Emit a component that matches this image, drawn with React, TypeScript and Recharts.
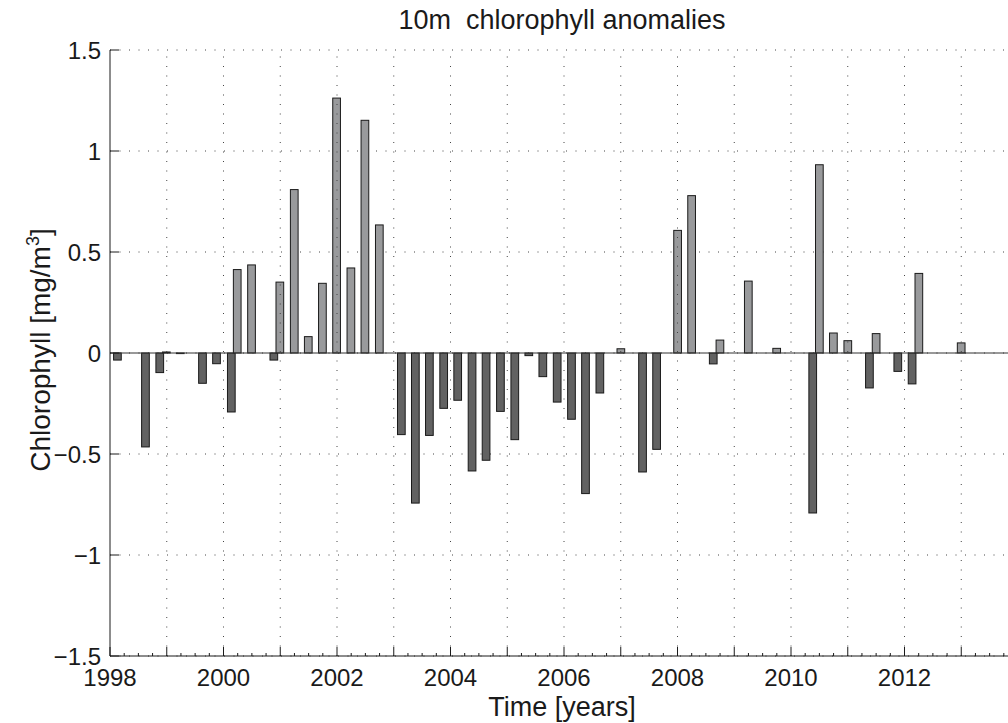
import React from "react";
import {
  BarChart,
  Bar,
  Cell,
  XAxis,
  YAxis,
  CartesianGrid,
  ReferenceLine,
} from "recharts";

// bar times (decimal years) and anomaly values
const times = [
  1998.136, 1998.63, 1998.882, 1998.998, 1999.243, 1999.635, 1999.882,
  2000.143, 2000.247, 2000.499, 2000.892, 2000.998, 2001.252, 2001.499,
  2001.748, 2001.998, 2002.25, 2002.497, 2002.751, 2003.139, 2003.386,
  2003.633, 2003.885, 2004.132, 2004.385, 2004.632, 2004.885, 2005.138,
  2005.385, 2005.632, 2005.885, 2006.137, 2006.384, 2006.637, 2007.007,
  2007.389, 2007.637, 2008.007, 2008.254, 2008.635, 2008.753, 2009.253,
  2009.753, 2010.388, 2010.505, 2010.752, 2011.006, 2011.387, 2011.505,
  2011.887, 2012.139, 2012.258, 2013.004,
];
const anomalies = [
  -0.035, -0.465, -0.097, 0.005, -0.003, -0.15, -0.053,
  -0.292, 0.413, 0.436, -0.035, 0.351, 0.809, 0.081,
  0.345, 1.262, 0.421, 1.152, 0.634, -0.404, -0.743,
  -0.408, -0.274, -0.234, -0.584, -0.531, -0.289, -0.429,
  -0.013, -0.117, -0.243, -0.328, -0.696, -0.198, 0.021,
  -0.589, -0.477, 0.607, 0.779, -0.054, 0.064, 0.356,
  0.023, -0.792, 0.932, 0.099, 0.061, -0.173, 0.096,
  -0.091, -0.153, 0.394, 0.05,
];

const years = [
  1998, 1999, 2000, 2001, 2002, 2003, 2004, 2005, 2006, 2007, 2008, 2009,
  2010, 2011, 2012, 2013, 2014,
];
const labeledYears = [1998, 2000, 2002, 2004, 2006, 2008, 2010, 2012];
const yTicks = [-1.5, -1, -0.5, 0, 0.5, 1, 1.5];

const data = times.map((t, i) => ({ t, v: anomalies[i] }));
const quarterTicks = years.flatMap((y) => [y, y + 0.25, y + 0.5, y + 0.75]).filter((q) => q <= 2014);

const FONT = '"Liberation Sans", Arial, Helvetica, sans-serif';
const INK = "#1a1a1a";
const PLOT_LEFT = 110;
const PLOT_BOTTOM = 656;
const POS = "#999a9c";
const NEG = "#626262";
const GRID_DASH = "1 8.5";
const BAR_W = 7.7;

const XTick = (props: any) => {
  const { x, payload } = props;
  const v = payload.value as number;
  const major = Math.abs(v - Math.round(v)) < 1e-6;
  const labeled = major && labeledYears.includes(Math.round(v));
  return (
    <g>
      <line x1={x} x2={x} y1={PLOT_BOTTOM} y2={PLOT_BOTTOM - (major ? 9 : 3)} stroke={INK} strokeWidth={1} />
      {labeled && (
        <text x={x} y={686} textAnchor="middle" fontFamily={FONT} fontSize={24} fill={INK}>
          {Math.round(v)}
        </text>
      )}
    </g>
  );
};

const YTick = (props: any) => {
  const { y, payload } = props;
  const v = payload.value as number;
  const label = v < 0 ? "\u2212" + String(Math.abs(v)) : String(v);
  return (
    <g>
      <line x1={PLOT_LEFT} x2={PLOT_LEFT + 9} y1={y} y2={y} stroke={INK} strokeWidth={1} />
      <text x={101} y={y} dy="0.36em" textAnchor="end" fontFamily={FONT} fontSize={24} fill={INK}>
        {label}
      </text>
    </g>
  );
};

// fixed-width bar centred on the slot recharts gives us
const BarShape = (props: any) => {
  const { x, y, width, height, fill } = props;
  if (x == null || y == null) return null;
  const cx = x + width / 2;
  const top = Math.min(y, y + height);
  const h = Math.abs(height);
  return (
    <rect x={cx - BAR_W / 2} y={top} width={BAR_W} height={h} fill={fill} stroke="#1a1a1a" strokeWidth={1} />
  );
};

export default function App() {
  return (
    <div
      style={{
        position: "absolute",
        left: 0,
        top: 0,
        width: 1008,
        height: 723,
        overflow: "hidden",
        background: "#fff",
      }}
    >
      <BarChart
        width={1030}
        height={723}
        data={data}
        margin={{ top: 50, right: 12, bottom: 0, left: 0 }}
      >
        <CartesianGrid vertical={false} stroke="#444" strokeDasharray={GRID_DASH} />
        {years.slice(1, -1).map((y) => (
          <ReferenceLine key={y} x={y} stroke="#444" strokeDasharray={GRID_DASH} />
        ))}
        <XAxis
          type="number"
          dataKey="t"
          domain={[1998, 2014]}
          ticks={quarterTicks}
          interval={0}
          height={67}
          tickSize={0}
          tickMargin={0}
          tickLine={false}
          tick={<XTick />}
          axisLine={{ stroke: INK, strokeWidth: 1 }}
        />
        <YAxis
          type="number"
          domain={[-1.5, 1.5]}
          ticks={yTicks}
          interval={0}
          width={110}
          tickSize={0}
          tickMargin={0}
          tickLine={false}
          tick={<YTick />}
          axisLine={{ stroke: INK, strokeWidth: 1 }}
        />
        <Bar dataKey="v" barSize={8} shape={<BarShape />} isAnimationActive={false}>
          {data.map((d, i) => (
            <Cell key={i} fill={d.v >= 0 ? POS : NEG} />
          ))}
        </Bar>
        <ReferenceLine y={0} stroke="#333" strokeWidth={1} />
      </BarChart>
      <svg
        width={1008}
        height={723}
        style={{ position: "absolute", left: 0, top: 0, pointerEvents: "none" }}
      >
        <text
          x={562}
          y={29}
          textAnchor="middle"
          fontFamily={FONT}
          fontSize={27}
          fill={INK}
          style={{ whiteSpace: "pre" }}
        >
          {"10m  chlorophyll anomalies"}
        </text>
        <text x={562} y={716} textAnchor="middle" fontFamily={FONT} fontSize={27} fill={INK}>
          Time [years]
        </text>
        <text
          transform="translate(50,350) rotate(-90)"
          textAnchor="middle"
          fontFamily={FONT}
          fontSize={28}
          fill={INK}
        >
          Chlorophyll [mg/m
          <tspan dy={-11} fontSize={18}>3</tspan>
          <tspan dy={11}>]</tspan>
        </text>
      </svg>
    </div>
  );
}
